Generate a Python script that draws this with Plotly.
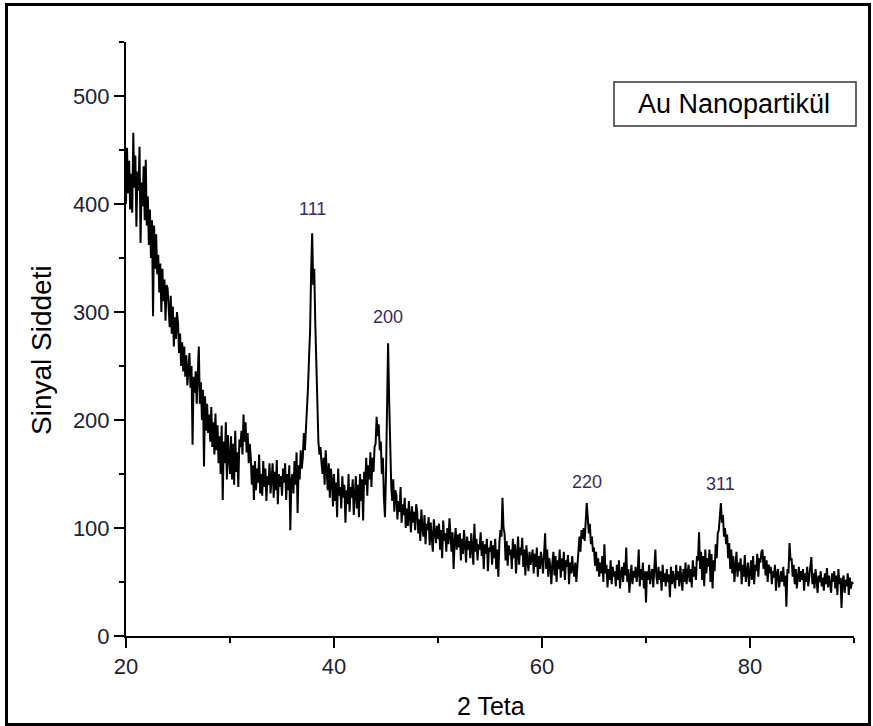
import numpy as np
import plotly.graph_objects as go

# XRD scan of Au nanoparticles, 2-theta step 0.1 deg, counts per step
two_theta_start = 20.0
two_theta_step = 0.1

counts_20_30 = [
    400, 452, 410, 440, 395, 428, 392, 466, 415, 445,
    379, 430, 412, 453, 364, 420, 398, 435, 385, 441,
    380, 407, 362, 395, 350, 385, 296, 380, 340, 372,
    335, 353, 318, 345, 300, 340, 310, 330, 292, 325,
    322, 300, 286, 315, 280, 305, 268, 295, 275, 300,
    290, 262, 280, 250, 272, 245, 268, 240, 260, 232,
    248, 262, 230, 250, 177, 240, 225, 245, 215, 238,
    268, 215, 235, 200, 228, 157, 222, 190, 215, 188,
    205, 180, 212, 175, 198, 168, 206, 172, 195, 160,
    185, 150, 195, 126, 180, 160, 198, 145, 186, 165,
]
counts_30_40 = [
    150, 185, 145, 178, 140, 190, 152, 170, 138, 182,
    175, 190, 168, 205, 180, 198, 170, 188, 160, 178,
    165, 140, 158, 126, 162, 135, 155, 142, 168, 132,
    150, 130, 162, 138, 155, 125, 148, 140, 160, 132,
    145, 160, 128, 152, 135, 163, 122, 150, 138, 148,
    130, 155, 142, 160, 126, 150, 135, 158, 98, 145,
    150, 132, 162, 140, 170, 114, 158, 145, 172, 155,
    165, 188, 172, 190, 205, 230, 258, 282, 336, 373,
    325, 340, 290, 252, 205, 180, 168, 175, 160, 150,
    165, 140, 172, 150, 135, 160, 128, 155, 145, 120,
]
counts_40_50 = [
    150, 125, 142, 110, 155, 130, 138, 118, 148, 128,
    140, 105, 135, 122, 150, 115, 138, 128, 145, 112,
    132, 148, 118, 140, 110, 150, 125, 145, 107, 152,
    140, 165, 130, 158, 145, 170, 138, 165, 152, 175,
    178, 203, 185, 196, 172, 180, 150, 165, 128, 110,
    150, 232, 271, 220, 165, 140, 125, 145, 115, 135,
    130, 108, 125, 115, 138, 105, 122, 112, 128, 100,
    118, 102, 125, 110, 96, 120, 105, 115, 98, 122,
    115, 95, 108, 88, 117, 100, 92, 112, 85, 104,
    98, 110, 84, 105, 92, 78, 108, 95, 86, 102,
]
counts_50_60 = [
    90, 104, 80, 98, 72, 107, 88, 95, 78, 100,
    85, 109, 92, 78, 96, 62, 88, 100, 80, 94,
    82, 95, 70, 90, 76, 98, 85, 68, 92, 80,
    88, 72, 95, 80, 66, 104, 78, 90, 70, 85,
    80, 96, 74, 88, 62, 85, 76, 90, 60, 82,
    78, 88, 66, 84, 72, 90, 62, 80, 55, 86,
    98, 92, 128, 100, 95, 70, 88, 65, 84, 75,
    80, 62, 90, 72, 85, 58, 78, 92, 66, 82,
    75, 91, 64, 80, 56, 84, 70, 60, 78, 66,
    72, 80, 58, 76, 64, 82, 55, 74, 62, 78,
]
counts_60_70 = [
    70, 58, 76, 95, 62, 80, 55, 72, 64, 48,
    68, 78, 56, 74, 50, 70, 62, 80, 54, 72,
    60, 78, 52, 70, 64, 75, 48, 68, 58, 74,
    62, 55, 68, 50, 64, 80, 92, 78, 98, 90,
    100, 88, 108, 123, 110, 95, 104, 85, 92, 78,
    82, 65, 78, 60, 72, 55, 68, 58, 74, 50,
    85, 58, 66, 45, 62, 52, 70, 48, 64, 55,
    60, 46, 66, 52, 70, 44, 58, 64, 50, 68,
    56, 82, 50, 62, 40, 58, 66, 48, 60, 54,
    64, 50, 58, 80, 46, 62, 52, 68, 44, 60,
]
counts_70_80 = [
    31, 60, 52, 66, 48, 58, 62, 45, 68, 80,
    55, 48, 64, 52, 60, 42, 66, 50, 58, 46,
    62, 50, 57, 36, 64, 48, 60, 54, 44, 66,
    52, 60, 46, 65, 54, 42, 62, 50, 68, 48,
    58, 66, 50, 62, 45, 70, 55, 64, 52, 74,
    70, 96, 62, 78, 52, 74, 46, 80, 58, 72,
    64, 80, 50, 76, 44, 70, 60, 85, 72, 95,
    98, 110, 123, 105, 112, 92, 100, 85, 94, 72,
    86, 62, 80, 58, 74, 50, 70, 78, 55, 68,
    60, 72, 48, 66, 55, 75, 50, 62, 68, 46,
]
counts_80_90 = [
    58, 70, 52, 74, 48, 66, 60, 76, 55, 72,
    68, 78, 80, 62, 74, 56, 70, 50, 66, 58,
    64, 48, 60, 54, 66, 42, 58, 62, 45, 56,
    60, 50, 64, 46, 56, 27, 62, 58, 86, 70,
    72, 55, 66, 48, 62, 44, 58, 64, 50, 60,
    52, 62, 42, 58, 50, 64, 46, 56, 60, 73,
    48, 58, 44, 62, 52, 40, 56, 50, 60, 46,
    54, 42, 58, 48, 63, 45, 56, 50, 40, 58,
    50, 60, 44, 56, 38, 62, 48, 54, 26, 52,
    56, 40, 52, 46, 58, 38, 54, 44, 50, 48,
]

# Bragg reflections of fcc gold
peak_two_theta = [37.9, 45.2, 64.3, 77.2]
peak_hkl = ["111", "200", "220", "311"]
peak_label_shift = [12, 14, 9, 7]

x_ticks = [20, 40, 60, 80]
y_ticks = [0, 100, 200, 300, 400, 500]

counts = np.array(counts_20_30 + counts_30_40 + counts_40_50 + counts_50_60
                  + counts_60_70 + counts_70_80 + counts_80_90, dtype=float)
two_theta = np.round(two_theta_start + two_theta_step * np.arange(len(counts)), 2)

W, H = 873, 726
ML, MR, MT, MB = 126, 19, 42, 90
PW, PH = W - ML - MR, H - MT - MB


def px_x(px):
    return (px - ML) / PW


def px_y(py):
    return (H - MB - py) / PH


FONT = "Arial, Liberation Sans, sans-serif"
LABEL_COLOR = "#3b2a66"

fig = go.Figure()
fig.add_trace(go.Scatter(
    x=two_theta, y=counts, mode="lines",
    line=dict(color="black", width=2),
    showlegend=False, hoverinfo="skip",
))

annotations = []
for pos, hkl, shift in zip(peak_two_theta, peak_hkl, peak_label_shift):
    idx = int(np.argmin(np.abs(two_theta - pos)))
    annotations.append(dict(
        x=pos, y=counts[idx], xref="x", yref="y", text=hkl, showarrow=False,
        yanchor="bottom", yshift=shift,
        font=dict(family=FONT, size=18, color=LABEL_COLOR),
    ))

# sample name box
annotations.append(dict(
    x=px_x(734), y=px_y(104), xref="paper", yref="paper",
    text="Au Nanopartikül", showarrow=False,
    font=dict(family=FONT, size=27, color="black"),
    xanchor="center", yanchor="middle",
))
# axis titles
annotations.append(dict(
    x=px_x(41), y=px_y(350), xref="paper", yref="paper",
    text="Sinyal Siddeti", showarrow=False, textangle=-90,
    font=dict(family=FONT, size=28, color="black"),
    xanchor="center", yanchor="middle",
))
annotations.append(dict(
    x=px_x(491), y=px_y(706), xref="paper", yref="paper",
    text="2 Teta", showarrow=False,
    font=dict(family=FONT, size=25, color="black"),
    xanchor="center", yanchor="middle",
))

shapes = [
    dict(type="rect", xref="paper", yref="paper",
         x0=px_x(614), x1=px_x(856), y0=px_y(126), y1=px_y(82),
         line=dict(color="#333333", width=1.5), fillcolor="rgba(0,0,0,0)"),
    dict(type="rect", xref="paper", yref="paper",
         x0=px_x(6.5), x1=px_x(869.5), y0=px_y(724.5), y1=px_y(4.5),
         line=dict(color="black", width=3), fillcolor="rgba(0,0,0,0)"),
]

axis_common = dict(
    showline=True, linecolor="black", linewidth=2,
    ticks="outside", ticklen=10, tickwidth=2, tickcolor="black",
    showgrid=False, zeroline=False,
    tickfont=dict(family=FONT, size=22, color="#222233"),
)

fig.update_layout(
    width=W, height=H,
    margin=dict(l=ML, r=MR, t=MT, b=MB),
    paper_bgcolor="white", plot_bgcolor="white",
    xaxis=dict(range=[20, 90], tickvals=x_ticks,
               minor=dict(ticks="outside", ticklen=5, tickwidth=2,
                          tickcolor="black", dtick=10, tick0=0),
               **axis_common),
    yaxis=dict(range=[0, 550], tickvals=y_ticks,
               minor=dict(ticks="outside", ticklen=5, tickwidth=2,
                          tickcolor="black", dtick=50, tick0=0),
               **axis_common),
    annotations=annotations,
    shapes=shapes,
)

fig.write_html("out.html")
